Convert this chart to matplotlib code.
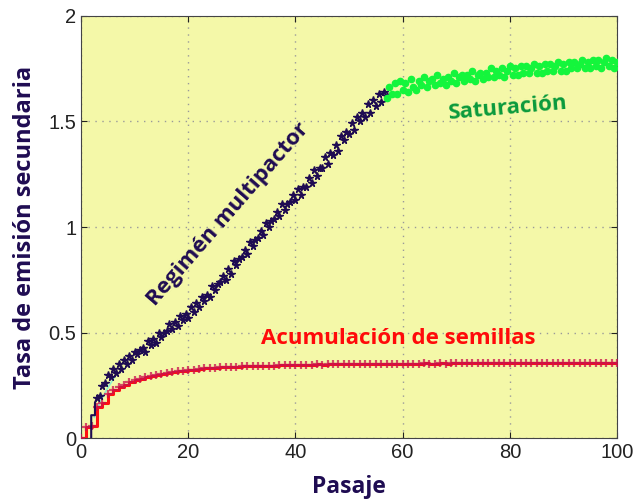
import numpy as np
import matplotlib.pyplot as plt

# Multipactor regime (dark points)
mp_x = np.arange(3.0, 57.01, 0.5)
mp_y = [0.19, 0.20, 0.25, 0.26, 0.30, 0.29, 0.33, 0.31, 0.35, 0.33,
        0.37, 0.35, 0.39, 0.37, 0.41, 0.40, 0.42, 0.43, 0.41, 0.46,
        0.44, 0.47, 0.45, 0.50, 0.48, 0.50, 0.51, 0.54, 0.52, 0.55,
        0.53, 0.58, 0.56, 0.59, 0.57, 0.62, 0.60, 0.64, 0.62, 0.67,
        0.65, 0.68, 0.67, 0.72, 0.70, 0.73, 0.74, 0.77, 0.75, 0.80,
        0.78, 0.84, 0.82, 0.85, 0.86, 0.89, 0.87, 0.93, 0.91, 0.94,
        0.95, 0.98, 0.96, 1.02, 1.00, 1.03, 1.04, 1.07, 1.05, 1.11,
        1.08, 1.11, 1.12, 1.15, 1.13, 1.18, 1.15, 1.19, 1.19, 1.23,
        1.21, 1.27, 1.24, 1.28, 1.28, 1.33, 1.30, 1.35, 1.34, 1.39,
        1.36, 1.43, 1.41, 1.45, 1.44, 1.49, 1.46, 1.52, 1.50, 1.54,
        1.52, 1.58, 1.54, 1.60, 1.57, 1.63, 1.59, 1.64, 1.62]

# Saturation (green points)
sat_x = np.arange(57.0, 100.01, 0.5)
sat_y = [1.61, 1.66, 1.63, 1.68, 1.63, 1.69, 1.65, 1.68, 1.64, 1.70,
         1.66, 1.65, 1.69, 1.67, 1.71, 1.66, 1.69, 1.70, 1.67, 1.72,
         1.68, 1.70, 1.67, 1.71, 1.69, 1.73, 1.68, 1.71, 1.72, 1.69,
         1.72, 1.70, 1.74, 1.69, 1.72, 1.73, 1.70, 1.73, 1.71, 1.75,
         1.71, 1.74, 1.72, 1.75, 1.71, 1.74, 1.76, 1.72, 1.75, 1.72,
         1.76, 1.73, 1.76, 1.73, 1.75, 1.77, 1.73, 1.76, 1.73, 1.77,
         1.74, 1.77, 1.74, 1.76, 1.78, 1.74, 1.77, 1.74, 1.78, 1.75,
         1.78, 1.75, 1.77, 1.79, 1.75, 1.78, 1.75, 1.79, 1.76, 1.79,
         1.75, 1.78, 1.80, 1.76, 1.79, 1.75, 1.78]

# Seed accumulation (red curve), one value per pass
seed_x = np.arange(0, 101)
seed_y = [0.0, 0.055, 0.06, 0.15, 0.17, 0.21, 0.23, 0.245, 0.255, 0.265,
          0.275, 0.283, 0.29, 0.296, 0.302, 0.307, 0.311, 0.315, 0.318, 0.321,
          0.324, 0.326, 0.329, 0.331, 0.333, 0.335, 0.336, 0.338, 0.339, 0.34,
          0.341, 0.342, 0.343, 0.343, 0.344, 0.345, 0.345, 0.346, 0.346, 0.347,
          0.348, 0.348, 0.349, 0.348, 0.350, 0.349, 0.350, 0.351, 0.350, 0.351,
          0.351, 0.352, 0.351, 0.352, 0.353, 0.352, 0.353, 0.352, 0.354, 0.353,
          0.353, 0.354, 0.353, 0.354, 0.355, 0.354, 0.354, 0.355, 0.354, 0.355,
          0.355, 0.356, 0.355, 0.355, 0.356, 0.355, 0.356, 0.356, 0.355, 0.356,
          0.356, 0.357, 0.356, 0.356, 0.357, 0.356, 0.357, 0.357, 0.356, 0.357,
          0.357, 0.358, 0.357, 0.357, 0.358, 0.357, 0.358, 0.358, 0.357, 0.358,
          0.358]

# early start-up traces
start_x = [1.9, 1.9, 2.6, 2.6, 3.2]
start_y = [0.0, 0.11, 0.11, 0.17, 0.2]
cyan_x = [2.5, 3.5, 5.0, 6.5, 8.0]
cyan_y = [0.10, 0.17, 0.24, 0.30, 0.33]

NAVY = '#1f0c52'
BG = '#f4f8a8'

plt.rcParams['font.family'] = ['Liberation Sans', 'DejaVu Sans']

fig = plt.figure(figsize=(6.35, 5.01), dpi=100)
ax = fig.add_axes([0.1276, 0.1248, 0.8441, 0.8442])
ax.set_facecolor(BG)

ax.plot(cyan_x, cyan_y, color='#8ef0d0', lw=1.2, zorder=2)
ax.plot(seed_x, seed_y, color='#ff1010', lw=2.2, drawstyle='steps-post', zorder=3)
ax.plot(seed_x, seed_y, ls='none', marker='+', ms=6, mew=1.6,
        color='#c8104e', alpha=0.75, zorder=4)
ax.plot(start_x, start_y, color=NAVY, lw=1.5, zorder=4)
ax.plot(mp_x, mp_y, ls='none', marker='*', ms=5.5, color=NAVY, zorder=5)
ax.plot(sat_x, sat_y, ls='none', marker='o', ms=4.5, color='#14f53c', zorder=5)

ax.set_xlim(0, 100)
ax.set_ylim(0, 2)
ax.set_xticks([0, 20, 40, 60, 80, 100])
ax.set_yticks([0, 0.5, 1, 1.5, 2])
ax.set_yticklabels(['0', '0.5', '1', '1.5', '2'])
ax.tick_params(direction='in', top=True, right=True, length=4,
               labelsize=14.5, colors='#222222')
ax.grid(True, ls=(0, (1, 4)), color='#9a9a9a', lw=1)
for s in ax.spines.values():
    s.set_color('#444444')

ax.set_xlabel('Pasaje', fontfamily='Open Sans', fontweight='bold',
              fontsize=16.5, color=NAVY, labelpad=9)
ax.set_ylabel('Tasa de emisión secundaria', fontfamily='Open Sans',
              fontweight='bold', fontsize=17, color=NAVY, labelpad=8)

ax.text(27.4, 1.06, 'Regimén multipactor', rotation=49, color=NAVY,
        fontfamily='Open Sans', fontweight='bold', fontsize=16,
        ha='center', va='center', rotation_mode='anchor')
ax.text(79.7, 1.56, 'Saturación', rotation=5, color='#0a9a3c',
        fontfamily='Open Sans', fontweight='bold', fontsize=16,
        ha='center', va='center', rotation_mode='anchor')
ax.text(59.1, 0.475, 'Acumulación de semillas', color='#ff0a0a',
        fontfamily='Open Sans', fontweight='bold', fontsize=16,
        ha='center', va='center')

fig.savefig('out.png', dpi=100)
